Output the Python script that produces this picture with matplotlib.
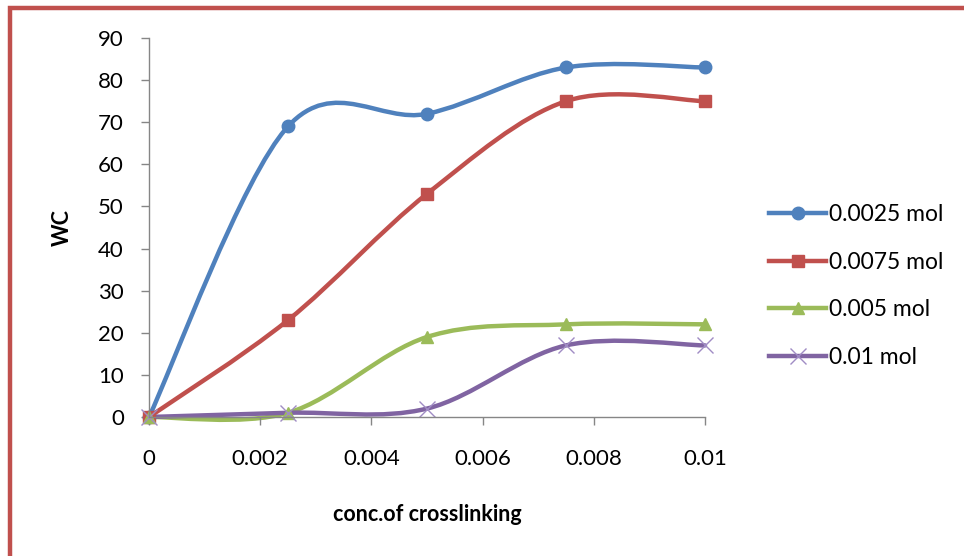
import matplotlib
matplotlib.use("Agg")
import matplotlib.pyplot as plt
from matplotlib.path import Path
from matplotlib.patches import PathPatch, Rectangle
from matplotlib.lines import Line2D

plt.rcParams['font.family'] = ['Lato', 'DejaVu Sans']

# data
conc = [0, 0.0025, 0.005, 0.0075, 0.01]
wc_00025 = [0, 69, 72, 83, 83]
wc_00075 = [0, 23, 53, 75, 75]
wc_0005 = [0, 1, 19, 22, 22]
wc_001 = [0, 1, 2, 17, 17]
series_labels = ['0.0025 mol', '0.0075 mol', '0.005 mol', '0.01 mol']

colors = ['#4F81BD', '#C0504D', '#9BBB59', '#8064A2']
markers = ['o', 's', '^', 'x']
axis_grey = '#868686'


def smooth_path(xs, ys):
    """Excel-style smoothed line as cubic Bezier segments."""
    n = len(xs)
    verts = [(xs[0], ys[0])]
    codes = [Path.MOVETO]
    for i in range(n - 1):
        i0 = max(i - 1, 0)
        i3 = min(i + 2, n - 1)
        c1 = (xs[i] + (xs[i + 1] - xs[i0]) / 6, ys[i] + (ys[i + 1] - ys[i0]) / 6)
        c2 = (xs[i + 1] - (xs[i3] - xs[i]) / 6, ys[i + 1] - (ys[i3] - ys[i]) / 6)
        verts += [c1, c2, (xs[i + 1], ys[i + 1])]
        codes += [Path.CURVE4] * 3
    return Path(verts, codes)


fig = plt.figure(figsize=(9.64, 5.56), dpi=100)
ax = fig.add_axes([149 / 964, 1 - 417 / 556, (705 - 149) / 964, (417 - 38) / 556])

handles = []
for ys, color, marker, label in zip([wc_00025, wc_00075, wc_0005, wc_001],
                                    colors, markers, series_labels):
    ax.add_patch(PathPatch(smooth_path(conc, ys), facecolor='none',
                           edgecolor=color, lw=3.2, capstyle='round',
                           clip_on=False))
    if marker == 'x':
        ax.plot(conc, ys, linestyle='none', marker='x', markersize=11,
                markeredgewidth=1.0, color='#A08CC4', clip_on=False)
        h = Line2D([], [], color=color, lw=3.2, marker='x', markersize=11,
                   markeredgewidth=1.0, markeredgecolor='#A08CC4')
    else:
        ax.plot(conc, ys, linestyle='none', marker=marker, markersize=9,
                color=color, clip_on=False)
        h = Line2D([], [], color=color, lw=3.2, marker=marker, markersize=9)
    handles.append(h)

ax.set_xlim(0, 0.01)
ax.set_ylim(0, 90)
ax.set_xticks([0, 0.002, 0.004, 0.006, 0.008, 0.01])
ax.set_xticklabels(['0', '0.002', '0.004', '0.006', '0.008', '0.01'])
ax.set_yticks(range(0, 91, 10))

for side in ['top', 'right']:
    ax.spines[side].set_visible(False)
for side in ['left', 'bottom']:
    ax.spines[side].set_color(axis_grey)
    ax.spines[side].set_linewidth(1.0)

ax.tick_params(axis='both', colors=axis_grey, labelcolor='black', labelsize=16,
               length=6, width=1.0)
ax.tick_params(axis='x', pad=17)
ax.tick_params(axis='y', pad=12)

ax.set_xlabel('conc.of crosslinking', fontsize=15.5, fontweight='bold', labelpad=25)
ax.set_ylabel('WC', fontsize=15.5, fontweight='bold', labelpad=18)

fig.legend(handles, series_labels, loc='upper left',
           bbox_to_anchor=(758 / 964, 1 - 193 / 556), frameon=False,
           fontsize=16.5, handlelength=2.45, handletextpad=0.15,
           labelspacing=1.15, borderpad=0)

# red frame around the chart area
fig.add_artist(Rectangle((10 / 964, -0.2), 1.2, 1 - 8 / 556 + 0.2,
                         transform=fig.transFigure, fill=False,
                         edgecolor='#C0504D', lw=3.2, clip_on=False))

fig.savefig('out.png', dpi=100)
